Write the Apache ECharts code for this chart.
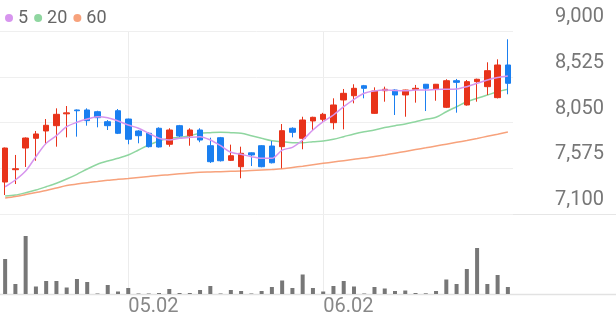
<!DOCTYPE html>
<html><head><meta charset="utf-8">
<script src="https://cdn.jsdelivr.net/npm/echarts@6/dist/echarts.min.js"></script>
<style>html,body{margin:0;padding:0;background:#fff}#c{width:616px;height:321px}</style>
</head><body><div id="c"></div>
<script>
const dates = ['04.15','04.16','04.17','04.18','04.21','04.22','04.23','04.24','04.25','04.28','04.29','04.30',
 '05.02','05.07','05.08','05.09','05.12','05.13','05.14','05.15','05.16','05.19','05.20','05.21','05.22','05.23','05.26','05.27','05.28','05.29','05.30',
 '06.02','06.04','06.05','06.09','06.10','06.11','06.12','06.13','06.16','06.17','06.18','06.19','06.20','06.23','06.24','06.25','06.26','06.27','06.30'];
const xTickLabels = ['05.02','06.02'];
const priceTicks = [7100, 7575, 8050, 8525, 9000];
const opens  = [7432,7560,7785,7886,7962,8017,8140,8180,8180,8162,8058,8172,8086,7962,7938,7990,7824,8017,7913,7972,7809,7892,7657,7591,7735,7809,7806,7799,7990,7886,8066,8083,8048,8284,8328,8432,8145,8380,8387,8336,8395,8447,8395,8208,8484,8232,8474,8422,8308,8647];
const closes = [7785,7570,7889,7931,8021,8135,8150,8172,8069,8100,8017,7938,7876,7913,7799,7796,7972,7910,7972,7868,7643,7653,7705,7730,7713,7591,7632,7965,7948,8076,8104,8135,8232,8353,8405,8405,8377,8395,8336,8387,8405,8405,8447,8484,8467,8474,8499,8588,8647,8457];
const lows   = [7297,7411,7588,7653,7824,7799,7896,7903,8017,8000,7972,7930,7824,7834,7790,7790,7799,7900,7809,7845,7630,7645,7650,7471,7598,7585,7625,7574,7896,7772,7965,8048,7979,7979,8249,8301,8140,8266,8128,8110,8256,8169,8276,8200,8152,8225,8266,8336,8300,8343];
const highs  = [7790,7713,7895,7962,8086,8197,8221,8185,8197,8172,8075,8190,8090,7970,7948,8000,7990,8025,7990,7990,7892,7900,7820,7799,7740,7815,7858,8034,8000,8110,8110,8150,8301,8398,8447,8440,8415,8422,8395,8390,8440,8450,8450,8499,8502,8491,8505,8675,8706,8914];
const ma5  = [7383,7453,7546,7695,7834,7913,8006,8052,8086,8110,8100,8066,8024,7990,7938,7886,7868,7886,7896,7903,7868,7809,7741,7720,7695,7678,7678,7764,7792,7868,7972,8058,8128,8214,8291,8353,8377,8387,8382,8380,8387,8387,8393,8395,8398,8422,8457,8491,8517,8533];
const ma20 = [7287,7297,7321,7349,7383,7419,7463,7512,7567,7616,7650,7678,7712,7764,7816,7858,7886,7896,7913,7938,7944,7948,7944,7938,7913,7886,7861,7851,7840,7840,7851,7858,7876,7903,7931,7954,7972,7998,8017,8034,8058,8083,8104,8162,8214,8266,8301,8335,8370,8395];
const ma60 = [7266,7282,7302,7323,7344,7370,7396,7411,7425,7437,7450,7460,7469,7479,7489,7500,7508,7517,7526,7533,7536,7539,7543,7546,7552,7557,7562,7569,7583,7596,7611,7626,7640,7654,7668,7681,7697,7713,7731,7750,7769,7787,7806,7825,7844,7863,7884,7907,7928,7951];
const volumes = [175000,50000,290000,37500,65000,65000,32500,75000,60000,2500,45000,12500,30000,2500,2500,5000,25000,5000,5000,20000,40000,2500,20000,15000,2500,15000,35000,67500,30000,97500,30000,12500,40000,65000,37500,2500,35000,27500,15000,17500,5000,3500,15000,72500,50000,125000,230000,50000,95000,35000];

const UP = '#e8331a', DOWN = '#1a7ff0';
const FONT = 'Roboto';
const candleData = opens.map((o,i)=>[o, closes[i], lows[i], highs[i]]);

const chart = echarts.init(document.getElementById('c'), null, {renderer:'canvas'});
chart.setOption({
  animation:false,
  textStyle:{fontFamily:FONT},
  legend:{left:0, top:4, icon:'circle', itemWidth:8, itemHeight:8, itemGap:6,
    textStyle:{fontSize:18, color:'#666', fontFamily:FONT},
    data:['5','20','60']},
  grid:[{left:0, right:103, top:31, height:183},
        {left:0, right:103, top:230, height:64}],
  xAxis:[
    {type:'category', gridIndex:0, data:dates, boundaryGap:true,
     axisLine:{show:false}, axisTick:{show:false}, axisLabel:{show:false}, splitLine:{show:false}},
    {type:'category', gridIndex:1, data:dates, boundaryGap:true,
     axisLine:{show:false}, axisTick:{show:false}, splitLine:{show:false},
     axisLabel:{show:true, fontSize:20, color:'#888', margin:3, align:'left', fontFamily:FONT,
       interval:(idx, val)=>xTickLabels.includes(val)}}
  ],
  yAxis:[
    {type:'value', gridIndex:0, position:'right', min:priceTicks[0], max:priceTicks[priceTicks.length-1],
     axisLine:{show:false},
     axisTick:{show:false, customValues:priceTicks},
     axisLabel:{customValues:priceTicks, fontSize:20, color:'#777', align:'right', margin:91,
       verticalAlign:'bottom', lineHeight:20, padding:[0,0,4,0], fontFamily:FONT,
       formatter:v=>v.toLocaleString('en-US')},
     splitLine:{show:true, lineStyle:{color:'#efefef', width:1}}},
    {type:'value', gridIndex:1, min:0, max:320000, show:false, splitLine:{show:false}}
  ],
  series:[
    {type:'candlestick', name:'price', xAxisIndex:0, yAxisIndex:0, data:candleData, barWidth:6, clip:false,
     itemStyle:{color:UP, color0:DOWN, borderColor:UP, borderColor0:DOWN, borderWidth:1}},
    {type:'line', name:'5', xAxisIndex:0, yAxisIndex:0, data:ma5, showSymbol:false, smooth:0.3,
     itemStyle:{color:'#d795ee'}, lineStyle:{color:'#d795ee', width:1.5}, z:3},
    {type:'line', name:'20', xAxisIndex:0, yAxisIndex:0, data:ma20, showSymbol:false, smooth:0.3,
     itemStyle:{color:'#8fd6a0'}, lineStyle:{color:'#8fd6a0', width:1.5}, z:1},
    {type:'line', name:'60', xAxisIndex:0, yAxisIndex:0, data:ma60, showSymbol:false, smooth:0.3,
     itemStyle:{color:'#f7a27c'}, lineStyle:{color:'#f7a27c', width:1.5}, z:1},
    {type:'bar', name:'vol', xAxisIndex:1, yAxisIndex:1, data:volumes, barWidth:4,
     itemStyle:{color:'#777'}}
  ]
});

// decorative frame lines, positioned through the library's own scales
const yBottom = chart.convertToPixel({yAxisIndex:0}, priceTicks[0]);
const yTop = chart.convertToPixel({yAxisIndex:0}, priceTicks[priceTicks.length-1]);
const yVolBase = chart.convertToPixel({yAxisIndex:1}, 0);
const W = chart.getWidth();
const gfx = [
  {type:'line', z:-1, silent:true, shape:{x1:0, y1:Math.round(yBottom)+0.5, x2:W, y2:Math.round(yBottom)+0.5}, style:{stroke:'#e6e6e6', lineWidth:1}},
  {type:'line', z:-1, silent:true, shape:{x1:0, y1:Math.round(yVolBase)+0.5, x2:W, y2:Math.round(yVolBase)+0.5}, style:{stroke:'#e2e2e2', lineWidth:1.5}}
];
xTickLabels.forEach(d=>{
  const x = Math.round(chart.convertToPixel({xAxisIndex:0}, d)) + 0.5;
  gfx.push({type:'line', z:-1, silent:true, shape:{x1:x, y1:yTop, x2:x, y2:yVolBase}, style:{stroke:'#ececec', lineWidth:1}});
});
chart.setOption({graphic:gfx});
</script></body></html>
